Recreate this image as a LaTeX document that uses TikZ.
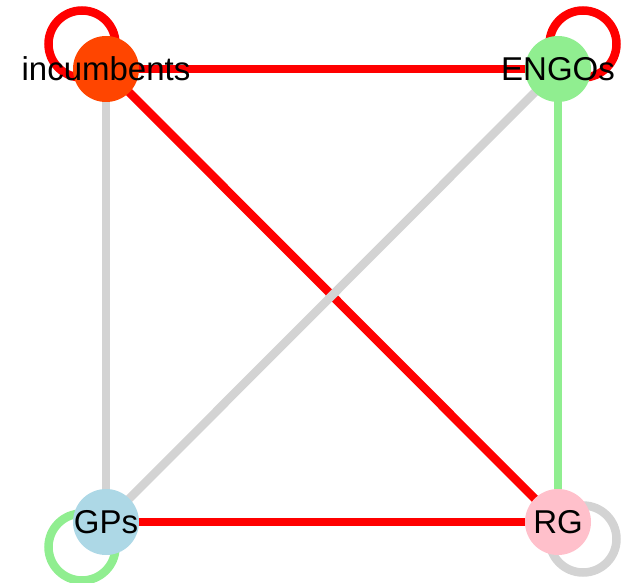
\documentclass[tikz,border=0pt]{standalone}
\usepackage{fontspec}
\setmainfont{Liberation Sans}
\usepackage{tikz}

\definecolor{edgered}{HTML}{FF0000}
\definecolor{edgegray}{HTML}{D3D3D3}
\definecolor{edgegreen}{HTML}{90EE90}
\definecolor{nodeorange}{HTML}{FF4500}
\definecolor{nodegreen}{HTML}{90EE90}
\definecolor{nodeblue}{HTML}{ADD8E6}
\definecolor{nodepink}{HTML}{FFC0CB}

\tikzset{
  actor/.style={circle, minimum size=66pt, inner sep=0pt},
  tie/.style={line width=8.5pt},
  selftie/.style={line width=8.5pt},
  lbl/.style={inner sep=0pt, font=\fontsize{33}{40}\selectfont}
}

\begin{document}
\begin{tikzpicture}[x=1pt, y=-1pt]
	  \useasboundingbox (0,0) rectangle (627,583);

	  % Positions
	  \coordinate (incumbents) at (106,69);
	  \coordinate (ENGOs) at (558,69);
	  \coordinate (GPs) at (106,522);
	  \coordinate (RG) at (558,522);

	  % Edges
	  \draw[tie, edgered] (incumbents) -- (ENGOs);
	  \draw[tie, edgegray] (incumbents) -- (GPs);
	  \draw[tie, edgered] (incumbents) -- (RG);
	  \draw[tie, edgegray] (ENGOs) -- (GPs);
	  \draw[tie, edgegreen] (ENGOs) -- (RG);
	  \draw[tie, edgered] (GPs) -- (RG);

	  % Self loops
	  \draw[selftie, edgered] ([shift={(-24,-25)}]incumbents) circle[radius=33.5pt];
	  \draw[selftie, edgered] ([shift={(25,-25)}]ENGOs) circle[radius=33.5pt];
	  \draw[selftie, edgegreen] ([shift={(-24,25)}]GPs) circle[radius=33.5pt];
	  \draw[selftie, edgegray] ([shift={(25,17)}]RG) circle[radius=33.5pt];

	  % Nodes
	  \node[actor, fill=nodeorange] (incumbentsdot) at (incumbents) {};
	  \node[actor, fill=nodegreen] (ENGOsdot) at (ENGOs) {};
	  \node[actor, fill=nodeblue] (GPsdot) at (GPs) {};
	  \node[actor, fill=nodepink] (RGdot) at (RG) {};

	  % Labels
	  \node[lbl] at (incumbentsdot) {incumbents};
	  \node[lbl] at (ENGOsdot) {ENGOs};
	  \node[lbl] at (GPsdot) {GPs};
	  \node[lbl] at (RGdot) {RG};
\end{tikzpicture}
\end{document}
